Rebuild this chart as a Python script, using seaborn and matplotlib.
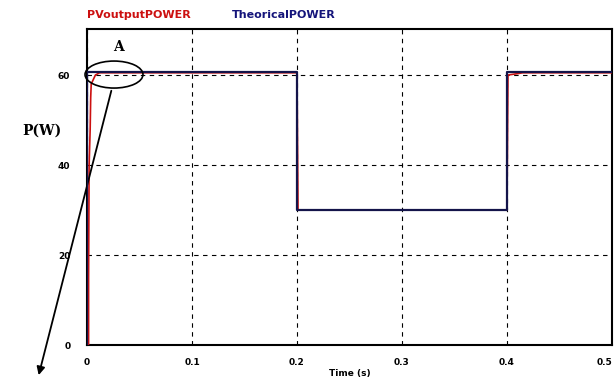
import numpy as np
import pandas as pd
import seaborn as sns
import matplotlib.pyplot as plt
from matplotlib.patches import Ellipse

# theoretical power step profile
theo_t = [0.0, 0.0, 0.2, 0.2, 0.4, 0.4, 0.5]
theo_p = [0.0, 60.6, 60.6, 30.0, 30.0, 60.6, 60.6]

# PV output power (MPPT tracking)
pv_t = [0.0, 0.0015, 0.0015, 0.002, 0.003, 0.0035, 0.004, 0.006, 0.008, 0.012,
        0.2, 0.2005, 0.201, 0.4, 0.4005, 0.401, 0.41, 0.415, 0.5]
pv_p = [0.0, 0.0, 15.0, 40.0, 48.0, 55.0, 58.0, 59.0, 60.0, 60.5,
        60.5, 45.0, 30.0, 30.0, 45.0, 60.0, 60.3, 60.5, 60.5]

theo = pd.DataFrame({"t": theo_t, "p": theo_p})
pv = pd.DataFrame({"t": pv_t, "p": pv_p})

sns.set_style("white")
fig = plt.figure(figsize=(6.15, 3.83), dpi=100)
ax = fig.add_axes([0.1415, 0.0992, 0.8535, 0.8248])

sns.lineplot(data=pv, x="t", y="p", ax=ax, color="#cc1010", lw=1.2,
             estimator=None, sort=False, zorder=3)
sns.lineplot(data=theo, x="t", y="p", ax=ax, color="#14144a", lw=1.6,
             estimator=None, sort=False, zorder=4)

ax.set_xlim(0, 0.5)
ax.set_ylim(0, 70.2)
ax.set_xticks([0, 0.1, 0.2, 0.3, 0.4, 0.5])
ax.set_xticklabels(["0", "0.1", "0.2", "0.3", "0.4", "0.5"])
ax.set_yticks([0, 20, 40, 60])
ax.tick_params(length=0, labelsize=6.5, labelcolor="black")
ax.tick_params(axis="x", pad=9)
ax.tick_params(axis="y", pad=12)
for lab in ax.get_xticklabels() + ax.get_yticklabels():
    lab.set_fontweight("bold")
ax.get_xticklabels()[-1].set_ha("right")

ax.grid(True, color="black", linestyle=(0, (4, 4)), lw=0.8)
for s in ax.spines.values():
    s.set_color("black")
    s.set_linewidth(1.5)
ax.spines["right"].set_linestyle((0, (2, 1)))

ax.set_xlabel("Time (s)", fontsize=6.5, fontweight="bold", labelpad=2,
              color="black")
ax.set_ylabel("P(W)", fontsize=10, fontweight="bold", family="serif",
              rotation=0, va="center", ha="center", color="black")
ax.yaxis.set_label_coords(-0.085, 0.68)

# series labels above the plot
fig.text(0.1415, 0.962, "PVoutputPOWER", color="#cc1010", fontsize=8,
         fontweight="bold", va="center")
fig.text(0.377, 0.962, "TheoricalPOWER", color="#14147a", fontsize=8,
         fontweight="bold", va="center")

# zoom marker "A"
ax.add_patch(Ellipse((0.0257, 60.1), 0.0552, 6.0, fill=False, ec="black",
                     lw=1.2, clip_on=False, zorder=5))
ax.text(0.0295, 66.2, "A", fontsize=10, fontweight="bold", family="serif",
        ha="center", va="center", color="black")
ax.annotate("", xy=(-0.0467, -7.3), xytext=(0.0238, 57.1),
            arrowprops=dict(arrowstyle="-|>", color="black", lw=1.3,
                            mutation_scale=12),
            annotation_clip=False)

fig.savefig("out.png", dpi=100)
